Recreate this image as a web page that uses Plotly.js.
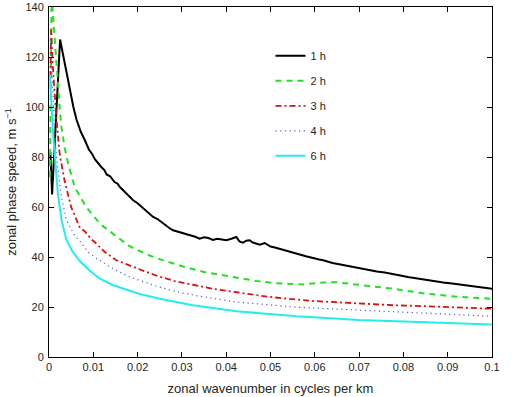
<!DOCTYPE html>
<html>
<head>
<meta charset="utf-8">
<script src="https://cdn.plot.ly/plotly-3.0.1.min.js"></script>
<style>html,body{margin:0;padding:0;background:#fff;}#chart{width:513px;height:397px;}</style>
</head>
<body>
<div id="chart"></div>
<script>
// Series names
const seriesNames = ["1 h", "2 h", "3 h", "4 h", "6 h"];

// 1 h (black)
const x1h = [0.0003,0.0007,0.0025,0.0035,0.0045,0.0055,0.0062,0.0072,0.0081,0.009,0.0097,0.0104,0.0118,0.0125,0.013,0.0138,0.0148,0.0155,0.016,0.0168,0.0175,0.0183,0.019,0.02,0.021,0.022,0.0235,0.0245,0.026,0.027,0.028,0.029,0.030,0.031,0.032,0.033,0.034,0.035,0.036,0.037,0.038,0.039,0.040,0.041,0.0423,0.043,0.0438,0.0445,0.0453,0.046,0.0468,0.0476,0.0487,0.050,0.051,0.0521,0.053,0.054,0.055,0.0559,0.057,0.058,0.059,0.060,0.061,0.0619,0.063,0.064,0.0655,0.0672,0.0687,0.0702,0.072,0.074,0.0758,0.0777,0.079,0.081,0.083,0.0852,0.087,0.089,0.091,0.0928,0.094,0.096,0.098,0.1];
const y1h = [82,65,127,118,108,100,95,90,86.7,83,81.3,79,76,74.8,73,72.3,70,69.3,68,66.6,65.2,64.2,62.7,61.5,60,58.4,56,55.2,53,51.8,50.7,50.2,49.5,49.2,48.5,48.1,47.3,47.9,47.6,46.8,47.3,46.9,46.7,47.2,48,46.2,45.7,46.5,46.7,45.8,45.3,44.9,45.6,44.2,43.8,43.3,42.7,42.2,41.8,41.3,40.8,40.3,39.8,39.4,39.0,38.7,38.1,37.6,37.1,36.5,35.9,35.3,34.8,34.2,33.8,33.3,32.7,32,31.4,30.7,30.2,29.8,29.4,29,28.6,28.1,27.7,27.3];

// 2 h (green)
const x2h = [0.0002,0.0006,0.0009,0.0017,0.0024,0.0028,0.0035,0.0043,0.0058,0.0084,0.0115,0.0145,0.0182,0.0201,0.0227,0.026,0.0303,0.035,0.0416,0.0468,0.0505,0.0544,0.0575,0.0589,0.062,0.0649,0.068,0.0717,0.0777,0.0852,0.0928,0.1];
const y2h = [72,146,137,116,100,92,84,77.5,68,60,53.3,49.2,44.3,42.7,40.6,38.5,36.2,34,32,30.4,29.6,29.1,29,29.3,29.8,29.9,29.3,28.5,27.3,25.3,24,23.3];

// 3 h (red)
const x3h = [0.0003,0.0005,0.0008,0.0013,0.0017,0.0024,0.0035,0.005,0.0069,0.0081,0.0096,0.0103,0.0126,0.0152,0.0182,0.0201,0.0243,0.0285,0.0325,0.037,0.0423,0.0499,0.0596,0.0717,0.0777,0.0852,0.0928,0.1];
const y3h = [112,131,118,103,94.7,81.3,70.7,60,52,50.2,47,46,42,38.7,36.5,35.3,32.5,30.3,28.9,27.3,25.9,24,22.4,21.1,20.7,20.3,19.7,19.3];

// 4 h (blue)
const x4h = [0.0003,0.0008,0.0013,0.0017,0.0028,0.0039,0.0058,0.0069,0.0088,0.0107,0.0145,0.0182,0.0205,0.024,0.0273,0.0303,0.036,0.0423,0.0559,0.0717,0.0852,0.1];
const y4h = [127,105,90,80,64,55,48.5,46.5,42,39.5,35.3,32,30.5,28.5,26.8,25.5,23.7,22,19.9,18.7,17.7,16.3];

// 6 h (cyan)
const x6h = [0.0002,0.0005,0.0009,0.0013,0.002,0.0028,0.0039,0.0052,0.0069,0.0092,0.0115,0.0145,0.0182,0.0205,0.025,0.0325,0.0423,0.0559,0.07,0.0852,0.1];
const y6h = [113,100,90,81,65.5,55,47,42.5,38.5,34.5,31.3,28.7,26.4,25.2,23.3,20.7,18.3,16.3,14.8,14,13];

const xTicks = [0,0.01,0.02,0.03,0.04,0.05,0.06,0.07,0.08,0.09,0.1];
const xTickLabels = ["0","0.01","0.02","0.03","0.04","0.05","0.06","0.07","0.08","0.09","0.1"];
const yTicks = [0,20,40,60,80,100,120,140];

const xs = [x1h,x2h,x3h,x4h,x6h];
const ys = [y1h,y2h,y3h,y4h,y6h];
const styles = [
  {color:"#000000", width:2, dash:"solid"},
  {color:"#22e022", width:2, dash:"6px,5px"},
  {color:"#dd1111", width:1.8, dash:"6px,3px,2px,3px"},
  {color:"#5555dd", width:1.2, dash:"1.2px,3.5px"},
  {color:"#22eeee", width:2, dash:"solid"}
];

const traces = seriesNames.map((n,i)=>({
  type:"scatter", mode:"lines", name:n, x:xs[i], y:ys[i],
  line:styles[i], legendgroup:"g"+i
}));

const font = {family:"Liberation Sans, Arial, sans-serif", size:11, color:"#262626"};

const layout = {
  width:513, height:397,
  margin:{l:49, r:21, t:7, b:40},
  paper_bgcolor:"#fff", plot_bgcolor:"#fff",
  font:font,
  showlegend:true,
  legend:{x:0.5, y:0.902, xanchor:"left", yanchor:"top", bgcolor:"rgba(0,0,0,0)",
          traceorder:"grouped", tracegroupgap:6, font:{family:font.family, size:11, color:"#262626"}},
  xaxis:{range:[0,0.1], tickvals:xTicks, ticktext:xTickLabels, ticks:"inside", ticklen:5,
         tickcolor:"#000", showline:true, linecolor:"#000", linewidth:1, mirror:"ticks",
         showgrid:false, zeroline:false, automargin:false,
         title:{text:"zonal wavenumber in cycles per km", font:{size:13, color:"#262626"}, standoff:11}},
  yaxis:{range:[0,140], tickvals:yTicks, ticks:"inside", ticklen:5, ticklabelstandoff:2,
         tickcolor:"#000", showline:true, linecolor:"#000", linewidth:1, mirror:"ticks",
         showgrid:false, zeroline:false, automargin:false,
         title:{text:"zonal phase speed, m s<sup>−1</sup>", font:{size:13, color:"#262626"}, standoff:5}}
};

Plotly.newPlot("chart", traces, layout, {displayModeBar:false, staticPlot:true});
</script>
</body>
</html>
